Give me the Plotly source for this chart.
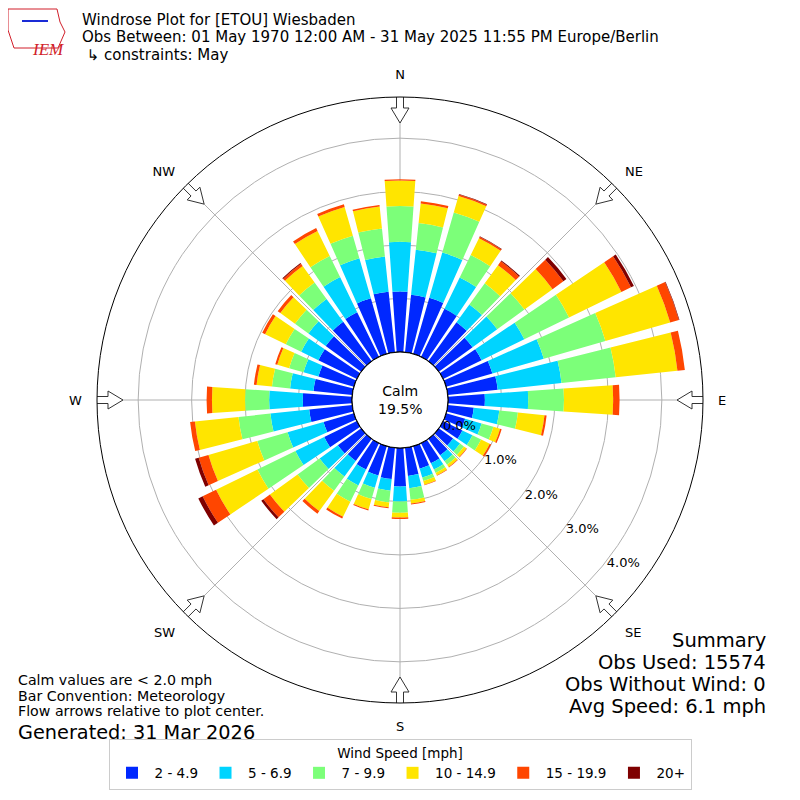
import math
import plotly.graph_objects as go

# wind directions (deg, met convention) and per-bin frequency in percent
directions = list(range(0, 360, 10))
speed_bins = ["2 - 4.9", "5 - 6.9", "7 - 9.9", "10 - 14.9", "15 - 19.9", "20+"]
bin_colors = ["#0028ff", "#00d4ff", "#7cff79", "#ffe500", "#ff4600", "#7f0000"]

spd_2_5 = [1.13, 1.08, 1.09, 1.00, 0.90, 0.78, 0.80, 0.90, 0.94, 0.69, 0.49, 0.37,
           0.40, 0.33, 0.38, 0.42, 0.44, 0.53, 0.72, 0.59, 0.57, 0.55, 0.51, 0.54,
           0.68, 0.59, 0.81, 0.92, 0.73, 0.69, 0.80, 0.82, 0.91, 0.93, 1.08, 1.14]
spd_5_7 = [0.93, 0.85, 0.88, 0.65, 0.41, 0.57, 0.89, 1.00, 1.20, 0.81, 0.48, 0.32,
           0.21, 0.16, 0.14, 0.13, 0.17, 0.23, 0.28, 0.22, 0.24, 0.33, 0.36, 0.42,
           0.60, 0.70, 0.73, 0.63, 0.44, 0.29, 0.36, 0.40, 0.53, 0.73, 0.78, 0.66]
spd_7_10 = [0.67, 0.50, 0.78, 0.47, 0.49, 0.63, 0.93, 1.20, 1.02, 0.67, 0.35, 0.23,
            0.18, 0.09, 0.08, 0.07, 0.07, 0.22, 0.21, 0.22, 0.22, 0.34, 0.33, 0.51,
            0.79, 0.59, 0.60, 0.45, 0.34, 0.28, 0.32, 0.31, 0.38, 0.44, 0.44, 0.53]
spd_10_15 = [0.48, 0.37, 0.32, 0.35, 0.42, 0.65, 1.09, 1.26, 1.16, 0.92, 0.50, 0.13,
             0.18, 0.06, 0.05, 0.05, 0.07, 0.07, 0.09, 0.09, 0.20, 0.31, 0.47, 0.64,
             0.86, 0.95, 0.82, 0.62, 0.29, 0.23, 0.43, 0.34, 0.38, 0.52, 0.56, 0.41]
spd_15_20 = [0.02, 0.04, 0.03, 0.03, 0.09, 0.25, 0.20, 0.17, 0.14, 0.12, 0.04, 0.03,
             0.03, 0.01, 0.01, 0.01, 0.01, 0.02, 0.03, 0.02, 0.02, 0.04, 0.06, 0.15,
             0.28, 0.19, 0.09, 0.10, 0.05, 0.04, 0.06, 0.06, 0.05, 0.06, 0.05, 0.03]
spd_20_up = [0.00, 0.00, 0.01, 0.01, 0.02, 0.07, 0.06, 0.01, 0.00, 0.00, 0.00, 0.00,
             0.00, 0.00, 0.00, 0.00, 0.00, 0.00, 0.00, 0.00, 0.00, 0.00, 0.00, 0.05,
             0.09, 0.07, 0.00, 0.00, 0.00, 0.00, 0.00, 0.00, 0.02, 0.00, 0.00, 0.00]
series = [spd_2_5, spd_5_7, spd_7_10, spd_10_15, spd_15_20, spd_20_up]

compass = ["N", "NE", "E", "SE", "S", "SW", "W", "NW"]
compass_deg = [0, 45, 90, 135, 180, 225, 270, 315]
r_ticks = [0, 1, 2, 3, 4]
r_max = 4.77

calm_pct = "19.5%"

# page body has an 8px margin, so the figure is a bit smaller and shifted
SIZE = 784
OFF = 8


def px(x):
    return (x - OFF) / SIZE


def py(y):
    return 1 - (y - OFF) / SIZE


# geometry of the polar area (pixels) used for the flow arrows
OUTER_PX = 303
HOLE_PX = 48
PX_PER_PCT = (OUTER_PX - HOLE_PX) / r_max

fig = go.Figure()

for name, vals, color in zip(speed_bins, series, bin_colors):
    fig.add_trace(go.Barpolar(
        r=vals, theta=directions, name=name, width=8,
        marker=dict(color=color, line=dict(width=0)),
    ))

# circle around the calm hole
ring = list(range(0, 361, 2))
fig.add_trace(go.Scatterpolar(
    r=[0] * len(ring), theta=ring, mode="lines",
    line=dict(color="black", width=1.2), showlegend=False, hoverinfo="skip",
))

# open flow arrows on the outer ring pointing at the centre
outline = [(307, -3.5), (292, -3.5), (292, -9), (277, 0), (292, 9),
           (292, 3.5), (307, 3.5), (307, -3.5)]
for d in compass_deg:
    ar = [(math.hypot(a, p) - HOLE_PX) / PX_PER_PCT for a, p in outline]
    at = [d + math.degrees(math.atan2(p, a)) for a, p in outline]
    fig.add_trace(go.Scatterpolar(
        r=ar, theta=at, mode="lines", fill="toself", fillcolor="white",
        line=dict(color="#333333", width=1), cliponaxis=False,
        showlegend=False, hoverinfo="skip",
    ))

fig.update_layout(
    width=SIZE, height=SIZE,
    margin=dict(l=0, r=0, t=0, b=0),
    paper_bgcolor="white",
    font=dict(family="DejaVu Sans", size=13, color="black"),
    polar=dict(
        domain=dict(x=[px(97), px(703)], y=[py(703), py(97)]),
        hole=HOLE_PX / OUTER_PX,
        bgcolor="white",
        barmode="stack",
        angularaxis=dict(
            direction="clockwise", rotation=90,
            tickmode="array", tickvals=compass_deg, ticktext=compass,
            showline=True, linecolor="black", linewidth=1,
            showgrid=True, gridcolor="#b0b0b0", gridwidth=1,
            ticks="outside", ticklen=12, tickcolor="rgba(0,0,0,0)",
            tickfont=dict(size=13), layer="above traces",
        ),
        radialaxis=dict(
            range=[0, r_max], tickmode="array", tickvals=r_ticks,
            ticktext=[f"{v:.1f}%" for v in r_ticks],
            showline=False, showgrid=True, gridcolor="#b0b0b0", gridwidth=1,
            ticks="", angle=-40, tickangle=-40, side="counterclockwise",
            tickfont=dict(size=13), layer="above traces",
        ),
    ),
    legend=dict(
        orientation="h", x=0.5, xanchor="center", y=py(790), yanchor="bottom",
        bordercolor="#cccccc", borderwidth=1, bgcolor="white",
        font=dict(size=13.5), itemwidth=35,
        title=dict(text="Wind Speed [mph]", side="top center", font=dict(size=13.5)),
    ),
)

# rough outline of the IEM logo
fig.add_shape(type="path", xref="paper", yref="paper",
              path=(f"M {px(8)} {py(9)} L {px(57)} {py(9)} L {px(60)} {py(22)} "
                    f"L {px(65)} {py(32)} L {px(58)} {py(48)} L {px(14)} {py(48)} "
                    f"L {px(8)} {py(30)} Z"),
              line=dict(color="#d11f2a", width=1))
fig.add_shape(type="line", xref="paper", yref="paper", x0=px(22), y0=py(21), x1=px(48),
              y1=py(21), line=dict(color="#1a2bd6", width=2))
fig.add_annotation(x=px(30), y=py(38), xref="paper", yref="paper", text="<i>IEM</i>",
                   showarrow=False, font=dict(family="Liberation Serif", size=17, color="#d11f2a"))

title_lines = [
    "Windrose Plot for [ETOU] Wiesbaden",
    "Obs Between: 01 May 1970 12:00 AM - 31 May 2025 11:55 PM Europe/Berlin",
    " ↳ constraints: May",
]
for i, line in enumerate(title_lines):
    fig.add_annotation(x=px(80), y=py(20 + 17.5 * i), xref="paper", yref="paper",
                       text=line, showarrow=False, xanchor="left", yanchor="middle",
                       font=dict(size=15))

fig.add_annotation(x=px(400), y=py(400), xref="paper", yref="paper",
                   text=f"Calm<br>{calm_pct}", showarrow=False, font=dict(size=14))

notes = ["Calm values are < 2.0 mph", "Bar Convention: Meteorology",
         "Flow arrows relative to plot center."]
for i, line in enumerate(notes):
    fig.add_annotation(x=px(16), y=py(680 + 15.5 * i), xref="paper", yref="paper",
                       text=line, showarrow=False, xanchor="left", yanchor="middle",
                       font=dict(size=14.2))
fig.add_annotation(x=px(16), y=py(732), xref="paper", yref="paper",
                   text="Generated: 31 Mar 2026", showarrow=False, xanchor="left",
                   yanchor="middle", font=dict(size=19.3))

summary = ["Summary", "Obs Used: 15574", "Obs Without Wind: 0", "Avg Speed: 6.1 mph"]
for i, line in enumerate(summary):
    fig.add_annotation(x=px(768), y=py(640 + 22 * i), xref="paper", yref="paper",
                       text=line, showarrow=False, xanchor="right", yanchor="middle",
                       font=dict(size=19.5))

fig.write_html("out.html")
